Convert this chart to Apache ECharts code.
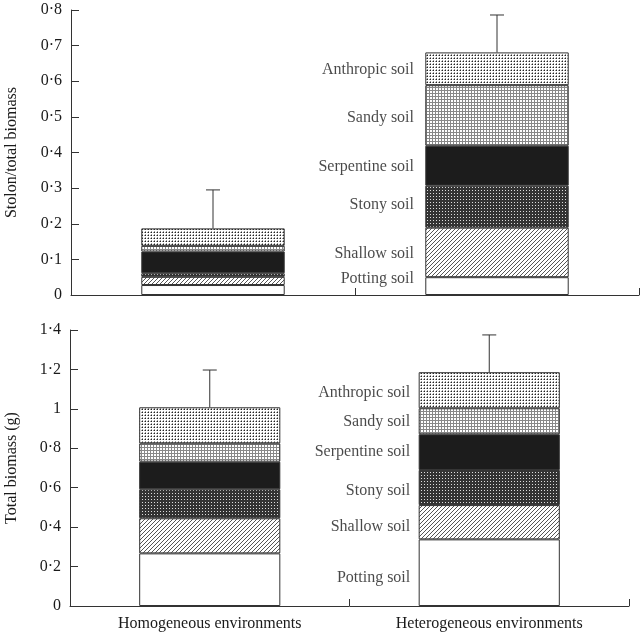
<!DOCTYPE html>
<html>
<head>
<meta charset="utf-8">
<script src="https://cdn.jsdelivr.net/npm/echarts@6/dist/echarts.min.js"></script>
<style>html,body{margin:0;padding:0;background:#fff}#c{width:640px;height:633px}</style>
</head>
<body>
<div id="c"></div>
<script>
// ---- data ----
const categories = ['Homogeneous environments', 'Heterogeneous environments'];
const soils = ['Potting soil', 'Shallow soil', 'Stony soil', 'Serpentine soil', 'Sandy soil', 'Anthropic soil'];
// stolon / total biomass, segment sizes per soil (Potting..Anthropic)
const stolonHom = [0.028, 0.023, 0.010, 0.061, 0.016, 0.049];
const stolonHet = [0.050, 0.139, 0.118, 0.112, 0.170, 0.092];
const stolonErr = [0.108, 0.105];
// total biomass (g)
const biomassHom = [0.267, 0.178, 0.147, 0.140, 0.093, 0.183];
const biomassHet = [0.338, 0.174, 0.178, 0.181, 0.132, 0.183];
const biomassErr = [0.189, 0.189];
// label anchor values beside heterogeneous bar
const stolonLabelY = [0.045, 0.115, 0.253, 0.359, 0.497, 0.632];
const biomassLabelY = [0.141, 0.402, 0.583, 0.780, 0.935, 1.082];
const stolonTicks = { min: 0, max: 0.8, interval: 0.1 };
const biomassTicks = { min: 0, max: 1.4, interval: 0.2 };

// ---- patterns ----
function pat(size, draw) {
  const c = document.createElement('canvas');
  c.width = size; c.height = size;
  const ctx = c.getContext('2d');
  ctx.fillStyle = '#fff'; ctx.fillRect(0, 0, size, size);
  draw(ctx);
  return { image: c, repeat: 'repeat' };
}
const fills = [
  '#ffffff',
  pat(4, ctx => { ctx.fillStyle = '#555'; for (let i = 0; i < 4; i++) ctx.fillRect(3 - i, i, 1, 1); }),
  pat(3, ctx => { ctx.fillStyle = '#333'; ctx.fillRect(0, 0, 3, 3); ctx.fillStyle = '#ddd'; ctx.fillRect(1, 1, 1, 1); }),
  '#1c1c1c',
  pat(3, ctx => { ctx.fillStyle = '#888'; ctx.fillRect(0, 0, 3, 1); ctx.fillRect(0, 0, 1, 3); }),
  pat(3, ctx => { ctx.fillStyle = '#222'; ctx.fillRect(1, 1, 1, 1); ctx.fillStyle = '#999'; ctx.fillRect(0, 1, 1, 1); ctx.fillRect(1, 0, 1, 1); })
];

const FONT = 'Liberation Serif';
const TXT = '#1a1a1a';
const LINE = '#333';
const fmt = v => {
  if (Math.abs(v) < 1e-9) return '0';
  const r = Math.round(v * 10) / 10;
  if (Number.isInteger(r)) return String(r);
  return r.toFixed(1).replace('.', '·');
};

const series = [];
function addPanel(idx, hom, het, err, labelY, labelDist) {
  soils.forEach((s, i) => {
    series.push({
      type: 'bar', name: s + idx, xAxisIndex: idx, yAxisIndex: idx, stack: 'st' + idx,
      barWidth: '50.5%',
      data: [hom[i], het[i]],
      itemStyle: { color: fills[i], borderColor: LINE, borderWidth: 1 },
      emphasis: { disabled: true }, silent: true
    });
  });
  const tops = [hom.reduce((a, b) => a + b, 0), het.reduce((a, b) => a + b, 0)];
  series.push({
    type: 'custom', xAxisIndex: idx, yAxisIndex: idx, silent: true, z: 5,
    data: tops.map((t, i) => [i, t, t + err[i]]),
    renderItem: (params, api) => {
      const p0 = api.coord([api.value(0), api.value(1)]);
      const p1 = api.coord([api.value(0), api.value(2)]);
      return {
        type: 'group', children: [
          { type: 'line', shape: { x1: p0[0], y1: p0[1], x2: p1[0], y2: p1[1] }, style: { stroke: LINE, lineWidth: 1 } },
          { type: 'line', shape: { x1: p1[0] - 7, y1: p1[1], x2: p1[0] + 7, y2: p1[1] }, style: { stroke: LINE, lineWidth: 1 } }
        ]
      };
    }
  });
  series.push({
    type: 'scatter', xAxisIndex: idx, yAxisIndex: idx, symbolSize: 0, silent: true,
    data: labelY.map((y, i) => ({ value: [1, y], name: soils[i] })),
    label: { show: true, position: 'left', distance: labelDist, formatter: p => p.name,
      fontFamily: FONT, fontSize: 16, color: TXT }
  });
}
addPanel(0, stolonHom, stolonHet, stolonErr, stolonLabelY, 83);
addPanel(1, biomassHom, biomassHet, biomassErr, biomassLabelY, 79);

function xAxis(idx, showLabels) {
  return {
    type: 'category', gridIndex: idx, data: categories,
    axisLine: { lineStyle: { color: LINE, width: 1 } },
    axisTick: { show: true, inside: true, length: 7, lineStyle: { color: LINE } },
    axisLabel: { show: showLabels, fontFamily: FONT, fontSize: 16, color: TXT, margin: 10 },
    splitLine: { show: false }
  };
}
function yAxis(idx, t, name, gap) {
  return {
    type: 'value', gridIndex: idx, min: t.min, max: t.max, interval: t.interval,
    name: name, nameLocation: 'middle', nameGap: gap, nameRotate: 90,
    nameTextStyle: { fontFamily: FONT, fontSize: 16, color: TXT },
    axisLine: { show: true, lineStyle: { color: LINE, width: 1 } },
    axisTick: { show: true, inside: true, length: 8, lineStyle: { color: LINE } },
    axisLabel: { fontFamily: FONT, fontSize: 16, color: TXT, margin: 9, formatter: fmt },
    splitLine: { show: false }
  };
}

const chart = echarts.init(document.getElementById('c'), null, { renderer: 'canvas' });
chart.setOption({
  animation: false,
  backgroundColor: '#fff',
  grid: [
    { left: 71, right: 1, top: 10, bottom: 338, containLabel: false, outerBoundsMode: 'none' },
    { left: 70, right: 11, top: 330, bottom: 27, containLabel: false, outerBoundsMode: 'none' }
  ],
  xAxis: [xAxis(0, false), xAxis(1, true)],
  yAxis: [yAxis(0, stolonTicks, 'Stolon/total biomass', 51), yAxis(1, biomassTicks, 'Total biomass (g)', 50)],
  series: series
});
</script>
</body>
</html>
